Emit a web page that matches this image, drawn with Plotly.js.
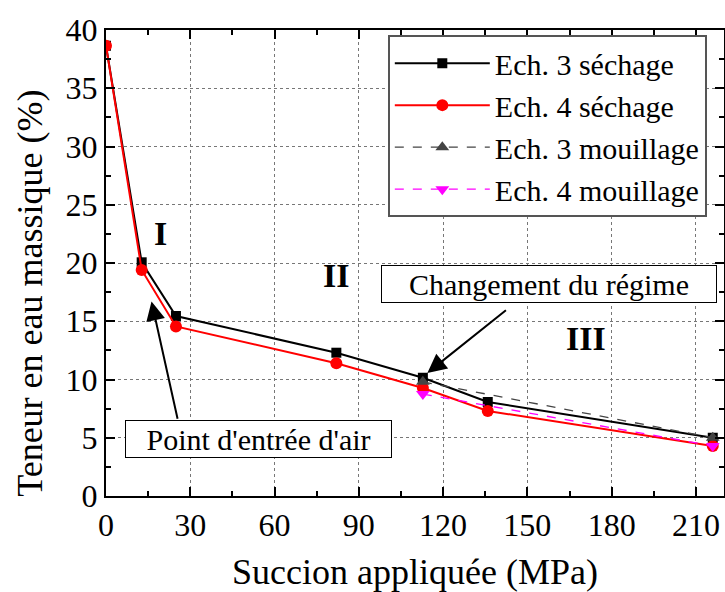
<!DOCTYPE html>
<html>
<head>
<meta charset="utf-8">
<script src="https://cdn.plot.ly/plotly-3.0.1.min.js"></script>
<style>html,body{margin:0;padding:0;background:#fff;}#chart{width:725px;height:592px;}</style>
</head>
<body>
<div id="chart"></div>
<script>
// Data
const suctionSechage = [0, 12.7, 24.9, 82, 112.8, 135.9, 216];
const ech3Sechage = [38.65, 20.06, 15.45, 12.3, 10.15, 8.07, 5.0];
const ech4Sechage = [38.65, 19.4, 14.55, 11.4, 9.27, 7.3, 4.3];
const suctionMouillage = [112.8, 216];
const ech3Mouillage = [9.8, 5.0];
const ech4Mouillage = [8.75, 4.3];
const seriesNames = ["Ech. 3 séchage", "Ech. 4 séchage", "Ech. 3 mouillage", "Ech. 4 mouillage"];
const xTitle = "Succion appliquée (MPa)";
const yTitle = "Teneur en eau massique (%)";

const FONT = "Liberation Serif, Times New Roman, serif";

const traces = [
  {x: suctionSechage, y: ech3Sechage, name: seriesNames[0], mode: "lines+markers",
   line: {color: "#000", width: 2}, marker: {symbol: "square", size: 10, color: "#000"}},
  {x: suctionSechage, y: ech4Sechage, name: seriesNames[1], mode: "lines+markers",
   line: {color: "#ff0000", width: 2}, marker: {symbol: "circle", size: 12, color: "#ff0000"}},
  {x: suctionMouillage, y: ech3Mouillage, name: seriesNames[2], mode: "lines+markers",
   line: {color: "#444", width: 1.3, dash: "dash"}, marker: {symbol: "triangle-up", size: 12, color: "#444"}},
  {x: suctionMouillage, y: ech4Mouillage, name: seriesNames[3], mode: "lines+markers",
   line: {color: "#ff00ff", width: 1.3, dash: "dash"}, marker: {symbol: "triangle-down", size: 12, color: "#ff00ff"}}
];

const axisCommon = {
  showline: true, linecolor: "#000", linewidth: 2, mirror: "ticks",
  ticks: "inside", ticklen: 9, tickwidth: 2, tickcolor: "#000",
  showgrid: true, gridcolor: "#777", gridwidth: 1, griddash: "dot",
  zeroline: false,
  tickfont: {family: FONT, size: 32, color: "#000"}
};

const layout = {
  width: 725, height: 592,
  margin: {l: 106, r: 1, t: 30, b: 96},
  paper_bgcolor: "#fff", plot_bgcolor: "#fff",
  font: {family: FONT, color: "#000"},
  showlegend: true,
  legend: {
    x: 0.456, y: 0.989, xanchor: "left", yanchor: "top",
    bgcolor: "#fff", bordercolor: "#555", borderwidth: 2,
    font: {family: FONT, size: 30, color: "#000"},
    itemwidth: 95
  },
  xaxis: Object.assign({}, axisCommon, {
    range: [0, 220], tickmode: "linear", tick0: 0, dtick: 30,
    minor: {dtick: 15, ticks: "inside", ticklen: 5, tickwidth: 2, tickcolor: "#000", showgrid: false},
    title: {text: xTitle, font: {family: FONT, size: 36, color: "#000"}, standoff: 18}
  }),
  yaxis: Object.assign({}, axisCommon, {
    range: [0, 40], tickmode: "linear", tick0: 0, dtick: 5,
    minor: {dtick: 2.5, ticks: "inside", ticklen: 5, tickwidth: 2, tickcolor: "#000", showgrid: false}
  }),
  annotations: [
    {xref: "paper", yref: "paper", x: -0.123, y: 0.436, text: yTitle, textangle: -90, showarrow: false,
     xanchor: "center", yanchor: "middle", font: {family: FONT, size: 36, color: "#000"}},
    {x: 19.5, y: 22.5, text: "<b>I</b>", showarrow: false, font: {family: FONT, size: 34, color: "#000"}},
    {x: 82, y: 18.9, text: "<b>II</b>", showarrow: false, font: {family: FONT, size: 34, color: "#000"}},
    {x: 171, y: 13.5, text: "<b>III</b>", showarrow: false, font: {family: FONT, size: 34, color: "#000"}},
    {x: 157.8, y: 18.2, text: "Changement du régime", showarrow: false,
     font: {family: FONT, size: 30, color: "#000"}, bgcolor: "#fff", bordercolor: "#000", borderwidth: 1,
     width: 332, height: 34, borderpad: 1},
    {x: 54.2, y: 4.9, text: "Point d'entrée d'air", showarrow: false,
     font: {family: FONT, size: 30, color: "#000"}, bgcolor: "#fff", bordercolor: "#000", borderwidth: 1,
     width: 263, height: 34, borderpad: 1},
    {x: 114.4, y: 10.56, ax: 142.9, ay: 16.05, axref: "x", ayref: "y", text: "", showarrow: true,
     arrowhead: 2, arrowsize: 1.9, arrowwidth: 2, arrowcolor: "#000", standoff: 0},
    {x: 16.2, y: 16.7, ax: 25.6, ay: 6.5, axref: "x", ayref: "y", text: "", showarrow: true,
     arrowhead: 2, arrowsize: 1.9, arrowwidth: 2, arrowcolor: "#000", standoff: 0}
  ]
};

Plotly.newPlot("chart", traces, layout, {displayModeBar: false, staticPlot: true});
</script>
</body>
</html>
